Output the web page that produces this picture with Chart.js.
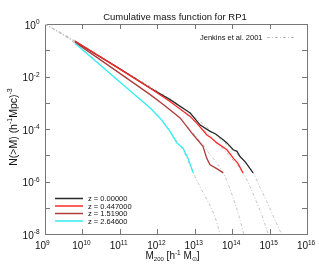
<!DOCTYPE html>
<html>
<head>
<meta charset="utf-8">
<script src="https://cdn.jsdelivr.net/npm/chart.js@4"></script>
<style>
  body { margin: 0; background: #fff; }
  #wrap { width: 319px; height: 266px; }
</style>
</head>
<body>
<div id="wrap"><canvas id="massChart" width="319" height="266"></canvas></div>
<script>
// values, stored as log10(M) and log10(N)
const seriesLabels = ['z = 0.00000', 'z = 0.447000', 'z = 1.51900', 'z = 2.64600'];
const seriesColors = ['#2a2a2a', '#ff2a2a', '#b03c3c', '#33eef2'];

const z0LogM = [9.80, 11.0, 11.81, 12.34, 12.88, 13.14, 13.41, 13.55, 13.76, 13.86, 14.03, 14.13, 14.21, 14.35, 14.56];
const z0LogN = [-0.66, -1.71, -2.44, -2.88, -3.39, -3.84, -4.09, -4.18, -4.41, -4.53, -4.79, -4.85, -5.05, -5.25, -5.67];

const z1LogM = [9.80, 11.0, 11.81, 12.34, 12.88, 13.10, 13.32, 13.45, 13.59, 13.86, 14.03, 14.15, 14.29];
const z1LogN = [-0.65, -1.72, -2.45, -2.95, -3.52, -3.85, -4.22, -4.35, -4.53, -4.79, -5.11, -5.30, -5.67];

const z2LogM = [9.80, 11.0, 11.81, 12.16, 12.61, 12.96, 13.22, 13.32, 13.41, 13.60, 13.76];
const z2LogN = [-0.69, -1.88, -2.69, -3.07, -3.58, -4.22, -4.66, -5.11, -5.36, -5.52, -5.67];

const z3LogM = [9.80, 11.0, 11.81, 12.07, 12.34, 12.52, 12.69, 12.82, 12.96];
const z3LogN = [-0.73, -2.21, -3.20, -3.58, -4.09, -4.53, -4.73, -5.11, -5.67];

// Jenkins et al. 2001 curves
const jenkinsLabel = 'Jenkins et al. 2001';
const j0LogM = [9.0, 9.8, 11.0, 12.0, 12.5, 13.0, 13.5, 14.0, 14.3, 14.56, 14.75, 14.94, 15.12, 15.31, 15.33];
const j0LogN = [0, -0.64, -1.69, -2.55, -3.00, -3.55, -4.15, -4.78, -5.20, -5.67, -6.24, -6.81, -7.39, -8.0, -8.1];
const j1LogM = [9.0, 9.8, 11.0, 12.0, 12.5, 13.0, 13.5, 13.9, 14.29, 14.48, 14.64, 14.80, 14.96, 14.98];
const j1LogN = [0, -0.65, -1.71, -2.62, -3.12, -3.72, -4.38, -4.98, -5.67, -6.20, -6.74, -7.31, -8.0, -8.1];
const j2LogM = [9.0, 9.8, 11.0, 11.81, 12.2, 12.6, 13.0, 13.4, 13.76, 13.92, 14.08, 14.21, 14.31, 14.33];
const j2LogN = [0, -0.69, -1.88, -2.69, -3.10, -3.60, -4.22, -4.95, -5.67, -6.20, -6.85, -7.46, -8.0, -8.1];
const j3LogM = [9.0, 9.8, 11.0, 11.81, 12.1, 12.4, 12.7, 12.96, 13.14, 13.33, 13.52, 13.68, 13.70];
const j3LogN = [0, -0.73, -2.21, -3.20, -3.62, -4.20, -4.85, -5.67, -6.20, -6.70, -7.27, -8.0, -8.1];

const xTickPowers = [9, 10, 11, 12, 13, 14, 15, 16];
const yTickPowers = [0, -1, -2, -3, -4, -5, -6, -7, -8];
const yLabelPowers = [0, -2, -4, -6, -8];

const FONT = '"Liberation Sans", Arial, sans-serif';

function toPoints(logM, logN) {
    return logM.map(function (m, i) {
        return { x: Math.pow(10, m), y: Math.pow(10, logN[i]) };
    });
}

// draws pieces of text; each piece is [text, size, baselineShift]
function drawPieces(ctx, pieces, x, y) {
    let cx = x;
    pieces.forEach(function (p) {
        ctx.font = p[1] + 'px ' + FONT;
        ctx.fillText(p[0], cx, y + p[2]);
        cx += ctx.measureText(p[0]).width;
    });
    return cx - x;
}

function piecesWidth(ctx, pieces) {
    let w = 0;
    pieces.forEach(function (p) {
        ctx.font = p[1] + 'px ' + FONT;
        w += ctx.measureText(p[0]).width;
    });
    return w;
}

const framePlugin = {
    id: 'frame',
    beforeDatasetsDraw: function (chart) {
        const ctx = chart.ctx;
        const a = chart.chartArea;
        const xs = chart.scales.x;
        const ys = chart.scales.y;
        ctx.save();
        ctx.strokeStyle = '#777';
        ctx.lineWidth = 1;
        ctx.strokeRect(Math.round(a.left) + 0.5, Math.round(a.top) + 0.5,
            Math.round(a.right - a.left), Math.round(a.bottom - a.top));
        ctx.beginPath();
        xTickPowers.forEach(function (p) {
            const px = Math.round(xs.getPixelForValue(Math.pow(10, p))) + 0.5;
            ctx.moveTo(px, a.bottom); ctx.lineTo(px, a.bottom - 5);
            ctx.moveTo(px, a.top); ctx.lineTo(px, a.top + 5);
        });
        yTickPowers.forEach(function (p) {
            const py = Math.round(ys.getPixelForValue(Math.pow(10, p))) + 0.5;
            ctx.moveTo(a.left, py); ctx.lineTo(a.left + 5, py);
            ctx.moveTo(a.right, py); ctx.lineTo(a.right - 5, py);
        });
        ctx.stroke();
        ctx.restore();
    },
    afterDraw: function (chart) {
        const ctx = chart.ctx;
        const a = chart.chartArea;
        const xs = chart.scales.x;
        const ys = chart.scales.y;
        ctx.save();
        ctx.fillStyle = '#111';
        ctx.textBaseline = 'alphabetic';
        ctx.textAlign = 'left';

        // x tick labels
        xTickPowers.forEach(function (p) {
            const px = xs.getPixelForValue(Math.pow(10, p));
            ctx.font = '10px ' + FONT;
            const w = ctx.measureText('10').width;
            drawPieces(ctx, [['10', 10, 0], [String(p), 6.5, -4]], px - w + 1, 249);
        });
        // y tick labels
        yLabelPowers.forEach(function (p) {
            const py = ys.getPixelForValue(Math.pow(10, p));
            const pieces = [['10', 10, 0], [String(p).replace('-', '-'), 6.5, -4.5]];
            const w = piecesWidth(ctx, pieces);
            drawPieces(ctx, pieces, 39.5 - w, py + 4.5);
        });

        // title
        ctx.font = '9.5px ' + FONT;
        ctx.textAlign = 'center';
        ctx.fillText('Cumulative mass function for RP1', 175, 20);
        ctx.textAlign = 'left';

        // x axis title
        drawPieces(ctx, [['M', 10, 0], ['200', 6, 2.5], [' [h', 10, 0], ['-1', 6.5, -4],
            [' M', 10, 0], ['\u2299', 6, 2.5], [']', 10, 0]], 145.5, 258.5);

        // y axis title
        const yPieces = [['N(>M) (h', 10.5, 0], ['-1', 7, -4.5], ['Mpc)', 10.5, 0], ['-3', 7, -4.5]];
        const yw = piecesWidth(ctx, yPieces);
        ctx.save();
        ctx.translate(16.5, 127);
        ctx.rotate(-Math.PI / 2);
        drawPieces(ctx, yPieces, -yw / 2, 0);
        ctx.restore();

        // redshift legend
        const legendY = [198.5, 206, 213.5, 221];
        seriesLabels.forEach(function (lab, i) {
            ctx.strokeStyle = seriesColors[i];
            ctx.lineWidth = 1.5;
            ctx.beginPath();
            ctx.moveTo(55, legendY[i]);
            ctx.lineTo(83, legendY[i]);
            ctx.stroke();
            ctx.font = '7.5px ' + FONT;
            ctx.fillText(lab, 88, legendY[i] + 2.7);
        });

        // Jenkins legend
        ctx.font = '7.5px ' + FONT;
        ctx.fillText(jenkinsLabel, 200, 40);
        ctx.strokeStyle = '#bdbdbd';
        ctx.lineWidth = 1;
        ctx.setLineDash([3, 2, 1, 2]);
        ctx.beginPath();
        ctx.moveTo(267, 37.5);
        ctx.lineTo(295, 37.5);
        ctx.stroke();
        ctx.restore();
    }
};

function jenkinsSet(logM, logN) {
    return {
        data: toPoints(logM, logN),
        borderColor: '#c4c4c4',
        borderWidth: 1,
        borderDash: [3, 2, 1, 2],
        pointRadius: 0,
        cubicInterpolationMode: 'monotone',
        order: 10
    };
}

function zSet(logM, logN, i) {
    return {
        label: seriesLabels[i],
        data: toPoints(logM, logN),
        borderColor: seriesColors[i],
        borderWidth: 1.3,
        pointRadius: 0,
        tension: 0,
        order: 4 - i
    };
}

document.addEventListener('DOMContentLoaded', function () {
    const ctx = document.getElementById('massChart').getContext('2d');
    new Chart(ctx, {
        type: 'line',
        data: {
            datasets: [
                jenkinsSet(j0LogM, j0LogN),
                jenkinsSet(j1LogM, j1LogN),
                jenkinsSet(j2LogM, j2LogN),
                jenkinsSet(j3LogM, j3LogN),
                zSet(z0LogM, z0LogN, 0),
                zSet(z1LogM, z1LogN, 1),
                zSet(z2LogM, z2LogN, 2),
                zSet(z3LogM, z3LogN, 3)
            ]
        },
        options: {
            responsive: false,
            animation: false,
            devicePixelRatio: 1,
            layout: { padding: { left: 45, right: 12, top: 24, bottom: 32 } },
            scales: {
                x: { type: 'logarithmic', min: 1e9, max: 1e16, display: false },
                y: { type: 'logarithmic', min: 1e-8, max: 1, display: false }
            },
            plugins: {
                legend: { display: false },
                tooltip: { enabled: false }
            }
        },
        plugins: [framePlugin]
    });
});
</script>
</body>
</html>
